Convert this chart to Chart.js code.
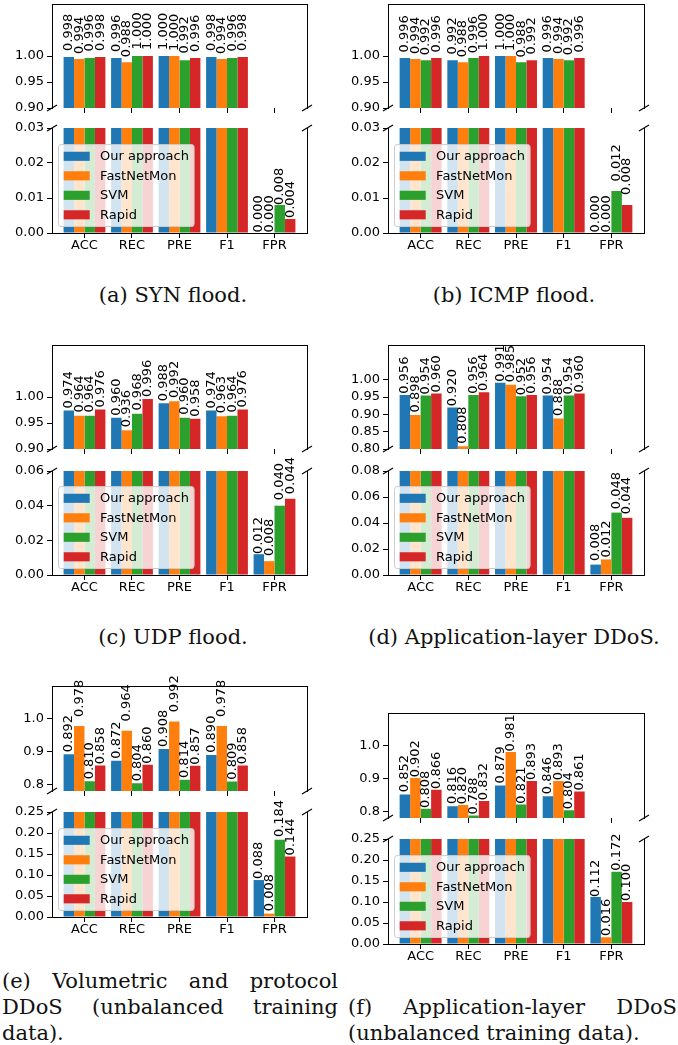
<!DOCTYPE html>
<html><head><meta charset="utf-8">
<script src="https://cdn.jsdelivr.net/npm/chart.js@4.4.0/dist/chart.umd.min.js"></script>
<style>
html,body{margin:0;padding:0;background:#fff;}
#fig{position:relative;width:678px;height:1045px;overflow:hidden;background:#fff;}
#fig canvas{position:absolute;}
.cap{position:absolute;font-family:'DejaVu Serif',serif;font-size:21px;line-height:26px;color:#111;white-space:nowrap;text-align:center;}
.capj{position:absolute;font-family:'DejaVu Serif',serif;font-size:21px;line-height:26px;color:#111;white-space:nowrap;text-align:justify;text-align-last:justify;}
.capl{position:absolute;font-family:'DejaVu Serif',serif;font-size:21px;line-height:26px;color:#111;white-space:nowrap;text-align:left;}
</style></head>
<body><div id="fig">
<div class="cap" style="left:3px;width:340px;top:282px">(a) SYN flood.</div>
<div class="cap" style="left:344px;width:340px;top:282px">(b) ICMP flood.</div>
<div class="cap" style="left:3px;width:340px;top:624px">(c) UDP flood.</div>
<div class="cap" style="left:344px;width:340px;top:624px">(d) Application-layer DDoS.</div>
<div class="capj" style="left:2px;width:336px;top:968px">(e) Volumetric and protocol</div>
<div class="capj" style="left:2px;width:336px;top:994px">DDoS (unbalanced training</div>
<div class="capl" style="left:2px;top:1020px">data).</div>
<div class="capj" style="left:348px;width:329px;top:994px">(f) Application-layer DDoS</div>
<div class="capl" style="left:348px;top:1020px">(unbalanced training data).</div>
</div>
<script>
// ---------- data ----------
const categories = ['ACC', 'REC', 'PRE', 'F1', 'FPR'];
const seriesNames = ['Our approach', 'FastNetMon', 'SVM', 'Rapid'];
const seriesColors = ['#1f77b4', '#ff7f0e', '#2ca02c', '#d62728'];

// (a) SYN flood
const synOurs  = [0.998, 0.996, 1.000, 0.998, 0.000];
const synFast  = [0.994, 0.988, 1.000, 0.994, 0.000];
const synSvm   = [0.996, 1.000, 0.992, 0.996, 0.008];
const synRapid = [0.998, 1.000, 0.996, 0.998, 0.004];
// (b) ICMP flood
const icmpOurs  = [0.996, 0.992, 1.000, 0.996, 0.000];
const icmpFast  = [0.994, 0.988, 1.000, 0.994, 0.000];
const icmpSvm   = [0.992, 0.996, 0.988, 0.992, 0.012];
const icmpRapid = [0.996, 1.000, 0.992, 0.996, 0.008];
// (c) UDP flood
const udpOurs  = [0.974, 0.960, 0.988, 0.974, 0.012];
const udpFast  = [0.964, 0.936, 0.992, 0.963, 0.008];
const udpSvm   = [0.964, 0.968, 0.960, 0.964, 0.040];
const udpRapid = [0.976, 0.996, 0.958, 0.976, 0.044];
// (d) Application-layer DDoS
const appOurs  = [0.956, 0.920, 0.991, 0.954, 0.008];
const appFast  = [0.898, 0.808, 0.985, 0.888, 0.012];
const appSvm   = [0.954, 0.956, 0.952, 0.954, 0.048];
const appRapid = [0.960, 0.964, 0.956, 0.960, 0.044];
// (e) Volumetric and protocol DDoS (unbalanced)
const volOurs  = [0.892, 0.872, 0.908, 0.890, 0.088];
const volFast  = [0.978, 0.964, 0.992, 0.978, 0.008];
const volSvm   = [0.810, 0.804, 0.814, 0.809, 0.184];
const volRapid = [0.858, 0.860, 0.857, 0.858, 0.144];
// (f) Application-layer DDoS (unbalanced)
const appUbOurs  = [0.852, 0.816, 0.879, 0.846, 0.112];
const appUbFast  = [0.902, 0.820, 0.981, 0.893, 0.016];
const appUbSvm   = [0.808, 0.788, 0.821, 0.804, 0.172];
const appUbRapid = [0.866, 0.832, 0.893, 0.861, 0.100];

// tick labels
const ticksTopFine   = ['0.90', '0.95', '1.00'];
const ticksTopApp    = ['0.80', '0.85', '0.90', '0.95', '1.00'];
const ticksTopCoarse = ['0.8', '0.9', '1.0'];
const ticksBot003 = ['0.00', '0.01', '0.02', '0.03'];
const ticksBot006 = ['0.00', '0.02', '0.04', '0.06'];
const ticksBot008 = ['0.00', '0.02', '0.04', '0.06', '0.08'];
const ticksBot025 = ['0.00', '0.05', '0.10', '0.15', '0.20', '0.25'];

// ---------- layout / style ----------
const subplots = [
  { series: [synOurs, synFast, synSvm, synRapid], topMin: 0.9, topTicks: ticksTopFine, botTicks: ticksBot003,
    L: 52, R: 307, T1: 4, B1: 108, T2: 128, B2: 233, gapTop: [7, 6, 7.5, 7], gapBot: [1.5, 1.5, 1, 1.8] },
  { series: [icmpOurs, icmpFast, icmpSvm, icmpRapid], topMin: 0.9, topTicks: ticksTopFine, botTicks: ticksBot003,
    L: 388, R: 644, T1: 4, B1: 108, T2: 128, B2: 233, gapTop: [6.5, 6, 5.7, 6.5], gapBot: [2, 2, 10.5, 11] },
  { series: [udpOurs, udpFast, udpSvm, udpRapid], topMin: 0.9, topTicks: ticksTopFine, botTicks: ticksBot006,
    L: 52, R: 307, T1: 345, B1: 449, T2: 471, B2: 575, gapTop: [3, 4, 4, 3], gapBot: [1, 6, 6.4, 5.4] },
  { series: [appOurs, appFast, appSvm, appRapid], topMin: 0.8, topTicks: ticksTopApp, botTicks: ticksBot008,
    L: 388, R: 644, T1: 345, B1: 449, T2: 471, B2: 575, gapTop: [2, 3.5, 2, 2], gapBot: [4.5, 2.7, 4.3, 4.5] },
  { series: [volOurs, volFast, volSvm, volRapid], topMin: 0.78, topTicks: ticksTopCoarse, botTicks: ticksBot025,
    L: 52, R: 307, T1: 686, B1: 791, T2: 812, B2: 917, gapTop: [3, 10, 2.7, 2], gapBot: [2, 3.4, 3.5, 1.8] },
  { series: [appUbOurs, appUbFast, appUbSvm, appUbRapid], topMin: 0.78, topTicks: ticksTopCoarse, botTicks: ticksBot025,
    L: 388, R: 644, T1: 713, B1: 818, T2: 839, B2: 944, gapTop: [3, 1.5, 1.7, 1.7], gapBot: [0.8, 2.3, 2, 2] }
];

Chart.defaults.font.family = "'DejaVu Sans', sans-serif";
Chart.defaults.font.size = 13;
Chart.defaults.color = '#000';

const FS = 13;

const valueLabels = {
  id: 'valueLabels',
  afterDatasetsDraw(chart, args, opts) {
    const ctx = chart.ctx, ys = chart.scales.y;
    ctx.save();
    ctx.font = FS + "px 'DejaVu Sans'";
    ctx.fillStyle = '#000';
    ctx.textAlign = 'left';
    ctx.textBaseline = 'middle';
    chart.data.datasets.forEach((ds, di) => {
      const meta = chart.getDatasetMeta(di);
      meta.data.forEach((el, i) => {
        const v = ds.data[i].y;
        if (v < ys.min - 1e-9 || v > ys.max + 1e-9) return;
        const g = (v === 0 ? 1.5 : opts.gaps[di]) - 0.9;
        ctx.save();
        ctx.translate(el.x, el.y - g);
        ctx.rotate(-Math.PI / 2);
        ctx.fillText(v.toFixed(3), 0, 0);
        ctx.restore();
      });
    });
    ctx.restore();
  }
};

const breakMarks = {
  id: 'breakMarks',
  afterDraw(chart, args, opts) {
    const ctx = chart.ctx, ca = chart.chartArea;
    const y = opts.edge === 'bottom' ? ca.bottom : ca.top;
    ctx.save();
    ctx.strokeStyle = '#000';
    ctx.lineWidth = 1.1;
    [ca.left, ca.right].forEach(x => {
      ctx.beginPath();
      ctx.moveTo(x - 5, y + 3);
      ctx.lineTo(x + 5, y - 3);
      ctx.stroke();
    });
    ctx.restore();
  }
};

const boxLegend = {
  id: 'boxLegend',
  afterDatasetsDraw(chart, args, opts) {
    if (!opts.show) return;
    const ctx = chart.ctx, ca = chart.chartArea;
    const pad = 0.4 * FS, rowH = FS, sp = 0.5 * FS, hl = 2 * FS, hh = 0.7 * FS, tp = 0.8 * FS;
    ctx.save();
    ctx.font = FS + "px 'DejaVu Sans'";
    const items = chart.data.datasets.map(d => ({ text: d.label, color: d.backgroundColor }));
    const tw = Math.max(...items.map(it => ctx.measureText(it.text).width));
    const bw = pad * 2 + hl + tp + tw;
    const bh = pad * 2 + items.length * rowH + (items.length - 1) * sp;
    const bx = ca.left + 0.5 * FS, by = ca.bottom - 0.5 * FS - bh, r = 0.2 * FS;
    ctx.beginPath();
    ctx.moveTo(bx + r, by);
    ctx.lineTo(bx + bw - r, by); ctx.arcTo(bx + bw, by, bx + bw, by + r, r);
    ctx.lineTo(bx + bw, by + bh - r); ctx.arcTo(bx + bw, by + bh, bx + bw - r, by + bh, r);
    ctx.lineTo(bx + r, by + bh); ctx.arcTo(bx, by + bh, bx, by + bh - r, r);
    ctx.lineTo(bx, by + r); ctx.arcTo(bx, by, bx + r, by, r);
    ctx.closePath();
    ctx.fillStyle = 'rgba(255,255,255,0.8)';
    ctx.fill();
    ctx.strokeStyle = '#cccccc';
    ctx.lineWidth = 1;
    ctx.stroke();
    ctx.textAlign = 'left';
    ctx.textBaseline = 'middle';
    items.forEach((it, k) => {
      const cy = by + pad + k * (rowH + sp) + rowH / 2;
      ctx.fillStyle = it.color;
      ctx.fillRect(bx + pad, cy - hh / 2, hl, hh);
      ctx.fillStyle = '#000';
      ctx.fillText(it.text, bx + pad + hl + tp, cy + 0.5);
    });
    ctx.restore();
  }
};

const fig = document.getElementById('fig');

function buildPanel(sp, isTop) {
  const L = sp.L, R = sp.R;
  const T = isTop ? sp.T1 : sp.T2, B = isTop ? sp.B1 : sp.B2;
  const padL = 52, padR = 12, padT = 16, padB = isTop ? 16 : 44;
  const W = R - L + padL + padR, H = B - T + padT + padB;
  const cv = document.createElement('canvas');
  cv.width = W; cv.height = H;
  cv.style.left = (L - padL) + 'px';
  cv.style.top = (T - padT) + 'px';
  cv.style.width = W + 'px';
  cv.style.height = H + 'px';
  fig.appendChild(cv);

  const yLabels = isTop ? sp.topTicks : sp.botTicks;
  const yMin = isTop ? sp.topMin : 0;
  const yMax = isTop ? 1.1 : parseFloat(sp.botTicks[sp.botTicks.length - 1]);

  const scales = {
    x: {
      type: 'linear', position: 'bottom', min: -0.684, max: 4.684, offset: false, bounds: 'data',
      afterBuildTicks: s => { s.ticks = categories.map((c, i) => ({ value: i })); },
      afterFit: s => { s.height = padB; },
      ticks: { display: !isTop, callback: (v, i) => categories[i], padding: 0, maxRotation: 0, autoSkip: false,
               font: { size: FS }, color: '#000' },
      grid: { display: true, drawOnChartArea: false, drawTicks: true, tickLength: 5, color: '#000', offset: false, z: 1 },
      border: { display: !isTop, color: '#000', width: 1, z: 1 }
    },
    y: {
      type: 'linear', position: 'left', min: yMin, max: yMax, bounds: 'data',
      afterBuildTicks: s => { s.ticks = yLabels.map(t => ({ value: parseFloat(t) })); },
      afterFit: s => { s.width = padL; },
      ticks: { callback: (v, i) => yLabels[i], padding: 3, font: { size: FS }, color: '#000', autoSkip: false },
      grid: { display: true, drawOnChartArea: false, drawTicks: true, tickLength: 5, color: '#000', z: 1 },
      border: { display: true, color: '#000', width: 1, z: 1 }
    },
    yr: {
      type: 'linear', position: 'right', min: 0, max: 1, display: true,
      afterBuildTicks: s => { s.ticks = []; },
      afterFit: s => { s.width = 0; },
      ticks: { display: false }, grid: { display: false },
      border: { display: true, color: '#000', width: 1, z: 1 }
    }
  };
  if (isTop) {
    scales.xt = {
      type: 'linear', position: 'top', axis: 'x', min: 0, max: 1, display: true,
      afterBuildTicks: s => { s.ticks = []; },
      afterFit: s => { s.height = 0; },
      ticks: { display: false }, grid: { display: false },
      border: { display: true, color: '#000', width: 1, z: 1 }
    };
  }

  return new Chart(cv, {
    type: 'bar',
    data: {
      datasets: seriesNames.map((name, k) => ({
        label: name,
        data: sp.series[k].map((v, i) => ({ x: i, y: v })),
        backgroundColor: seriesColors[k],
        borderWidth: 0,
        clip: 0,
        categoryPercentage: 0.88,
        barPercentage: 1.0
      }))
    },
    options: {
      responsive: false, animation: false, devicePixelRatio: 1,
      layout: { padding: { left: 0, right: padR, top: padT, bottom: 0 } },
      plugins: {
        legend: { display: false }, tooltip: { enabled: false },
        valueLabels: { gaps: isTop ? sp.gapTop : sp.gapBot },
        breakMarks: { edge: isTop ? 'bottom' : 'top' },
        boxLegend: { show: !isTop }
      },
      scales
    },
    plugins: [valueLabels, boxLegend, breakMarks]
  });
}

subplots.forEach(sp => { buildPanel(sp, true); buildPanel(sp, false); });
</script>
</body></html>
